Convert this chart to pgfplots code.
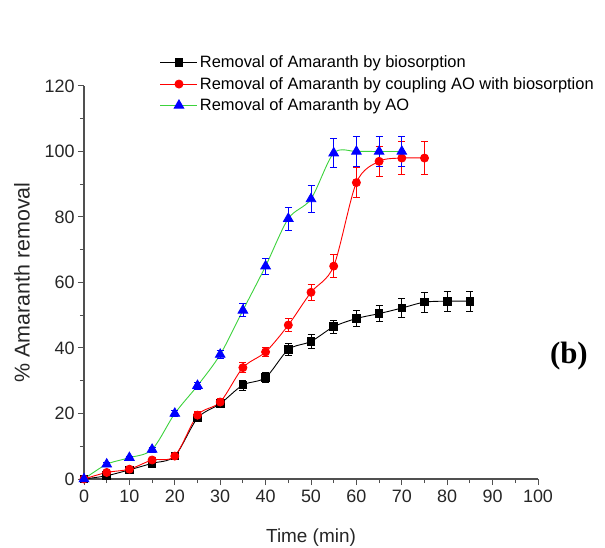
\documentclass[border=0pt]{standalone}
\usepackage{fontspec}
\setmainfont{Liberation Sans}
\newfontfamily\serifb{Liberation Serif}
\usepackage{pgfplots}
\pgfplotsset{compat=1.18}
\definecolor{lgreen}{RGB}{60,210,60}
\definecolor{axgray}{RGB}{80,80,80}
\begin{document}
\begin{tikzpicture}
\begin{axis}[
  at={(0,0)}, anchor=origin,
  scale only axis, width=454bp, height=393bp,
  xmin=0, xmax=100, ymin=0, ymax=120,
  axis lines*=left,
  axis line style={axgray, line width=1.3bp},
  every tick/.style={axgray, line width=1bp},
  tick align=outside,
  major tick length=6bp, minor tick length=4bp,
  xtick={0,10,...,100}, minor xtick={5,15,...,95},
  ytick={0,20,...,120}, minor ytick={10,30,...,110},
  /pgf/number format/assume math mode=true,
  tick label style={font=\fontsize{18}{20}\selectfont, text=black!85},
  xticklabel style={yshift=-1bp},
  xlabel={Time (min)}, ylabel={\% Amaranth removal},
  xlabel style={font=\fontsize{19}{21}\selectfont, text=black!85, at={(axis description cs:0.5,0)}, anchor=center, yshift=-59bp},
  ylabel style={font=\fontsize{21.5}{23}\selectfont, text=black!85, at={(axis description cs:0,0.5)}, anchor=center, yshift=62bp},
  clip=false,
  legend style={draw=none, fill=none, at={(0.167,1.082)}, anchor=north west,
    font=\fontsize{16.5}{18}\selectfont, row sep=4bp, inner sep=0pt,
    /tikz/every even column/.append style={column sep=4bp}},
  legend cell align=left,
  legend image code/.code={\draw[#1, mark=none] (0bp,0bp) -- (37bp,0bp); \path[#1] plot coordinates {(18.5bp,0bp)};},
  error bars/y dir=both, error bars/y explicit,
  error bars/error mark options={rotate=90, mark size=3.5bp, line width=0.8bp},
]
\addplot+[black, line width=0.9bp, smooth, tension=0.5, mark=square*, mark size=3.8bp, mark options={black, fill=black},
  error bars/error bar style={black, line width=0.8bp}]
  table[x=t, y=y, y error=e] {
t y e
0 0 0
5 1 0.5
10 2.8 0.5
15 4.8 0.8
20 7 0.8
25 18.6 1
30 23 1
35 28.7 1.5
40 31 1.5
45 39.5 1.8
50 42 2
55 46.5 2
60 49 2.5
65 50.5 2.5
70 52.2 2.8
75 54 3
80 54.3 3
85 54.3 3
};
\addlegendentry{Removal of Amaranth by biosorption}
\addplot+[red, line width=0.9bp, smooth, tension=0.5, mark=*, mark size=4bp, mark options={red, fill=red},
  error bars/error bar style={red, line width=0.8bp}]
  table[x=t, y=y, y error=e] {
t y e
0 0 0
5 2 0.5
10 3 0.5
15 5.8 0.8
20 7 0.8
25 19.5 1
30 23.5 1
35 34 1.5
40 38.8 1.5
45 47 2
50 57 2.5
55 65 3.5
60 90.5 4.5
65 97 4.5
70 98 5
75 98 5
};
\addlegendentry{Removal of Amaranth by coupling AO with biosorption}
\addplot+[lgreen, line width=0.9bp, smooth, tension=0.5, mark=triangle*, mark size=5.5bp, mark options={blue, fill=blue},
  error bars/error bar style={blue, line width=0.8bp}]
  table[x=t, y=y, y error=e] {
t y e
0 0 0
5 4.5 0.5
10 6.5 0.5
15 9 0.8
20 20 0.8
25 28.5 1
30 38 1.2
35 51.5 2
40 65 2.5
45 79.5 3.5
50 85.5 4
55 99.5 4.5
60 100 4.5
65 100 4.5
70 100 4.5
};
\addlegendentry{Removal of Amaranth by AO}
\node[font=\serifb\bfseries\fontsize{31}{34}\selectfont] at (axis cs:106.8,37.6) {(b)};
\end{axis}
\pgfresetboundingbox
\path[use as bounding box] (-84bp,-69bp) rectangle (521bp,479bp);
\end{tikzpicture}
\end{document}
